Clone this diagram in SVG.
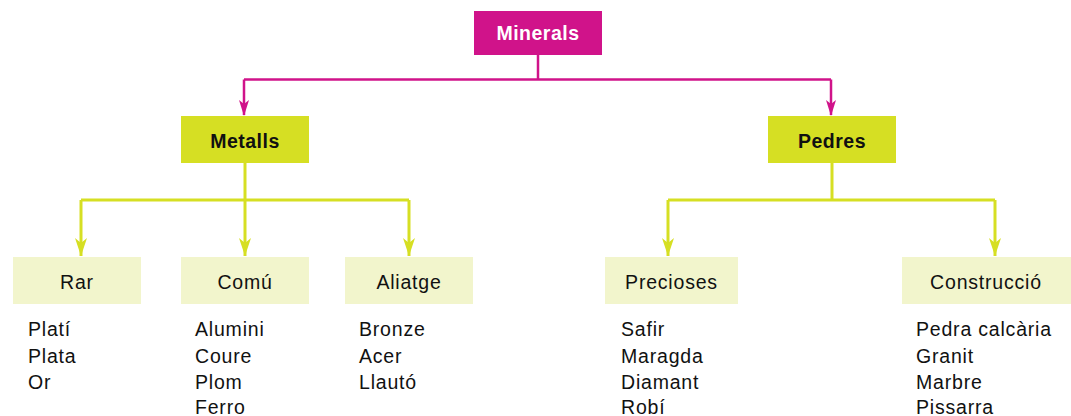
<svg xmlns="http://www.w3.org/2000/svg" width="1071" height="416" viewBox="0 0 1071 416">
<style>
.t{font-family:"Liberation Sans",Arial,sans-serif;font-size:19.5px;letter-spacing:0.8px;fill:#111}
.c{text-anchor:middle}
.b{font-weight:bold;letter-spacing:0.5px}
.mag{fill:none;stroke:#D0138A;stroke-width:2.5}
.yel{fill:none;stroke:#D6DF23;stroke-width:3}
.sub{fill:#F2F5CC}
.mid{fill:#D6DF23}
</style>
<g id="connectors">
<path class="mag" d="M538,55 V79.5"/>
<path class="mag" d="M244,79.5 H831"/>
<path class="mag" d="M244,79.5 V115"/>
<path class="mag" d="M831,79.5 V115"/>
<path class="yel" d="M245,163 V200"/>
<path class="yel" d="M81,200 H409"/>
<path class="yel" d="M81,200 V256"/>
<path class="yel" d="M245,200 V256"/>
<path class="yel" d="M409,200 V256"/>
<path class="yel" d="M832,163 V200"/>
<path class="yel" d="M668,200 H995"/>
<path class="yel" d="M668,200 V256"/>
<path class="yel" d="M995,200 V256"/>
<g fill="#D0138A">
<path d="M244,116 L239,100 L244,104 L249,100 Z"/>
<path d="M831,116 L826,100 L831,104 L836,100 Z"/>
</g>
<g fill="#D6DF23">
<path d="M81,256 L75,238 L81,243 L87,238 Z"/>
<path d="M245,256 L239,238 L245,243 L251,238 Z"/>
<path d="M409,256 L403,238 L409,243 L415,238 Z"/>
<path d="M668,256 L662,238 L668,243 L674,238 Z"/>
<path d="M995,256 L989,238 L995,243 L1001,238 Z"/>
</g>
</g>
<g id="minerals">
<rect x="474" y="11" width="128" height="44" fill="#D0138A"/>
<text class="t c b" x="538" y="39.5" style="fill:#fff">Minerals</text>
</g>
<g id="metalls">
<rect class="mid" x="181" y="116" width="128" height="47"/>
<text class="t c b" x="245" y="147.5">Metalls</text>
</g>
<g id="pedres">
<rect class="mid" x="768" y="116" width="128" height="47"/>
<text class="t c b" x="832" y="147.5">Pedres</text>
</g>
<g id="rar">
<rect class="sub" x="13" y="257" width="128" height="47"/>
<text class="t c" x="77" y="289">Rar</text>
<text class="t" x="28" y="336">Platí</text>
<text class="t" x="28" y="362.5">Plata</text>
<text class="t" x="28" y="389">Or</text>
</g>
<g id="comu">
<rect class="sub" x="181" y="257" width="128" height="47"/>
<text class="t c" x="245" y="289">Comú</text>
<text class="t" x="195" y="336">Alumini</text>
<text class="t" x="195" y="362.5">Coure</text>
<text class="t" x="195" y="389">Plom</text>
<text class="t" x="195" y="414">Ferro</text>
</g>
<g id="aliatge">
<rect class="sub" x="345" y="257" width="128" height="47"/>
<text class="t c" x="409" y="289">Aliatge</text>
<text class="t" x="359" y="336">Bronze</text>
<text class="t" x="359" y="362.5">Acer</text>
<text class="t" x="359" y="389">Llautó</text>
</g>
<g id="precioses">
<rect class="sub" x="605" y="257" width="133" height="47"/>
<text class="t c" x="671.5" y="289">Precioses</text>
<text class="t" x="621" y="336">Safir</text>
<text class="t" x="621" y="362.5">Maragda</text>
<text class="t" x="621" y="389">Diamant</text>
<text class="t" x="621" y="414">Robí</text>
</g>
<g id="construccio">
<rect class="sub" x="902" y="257" width="169" height="47"/>
<text class="t c" x="986" y="289">Construcció</text>
<text class="t" x="916" y="336">Pedra calcària</text>
<text class="t" x="916" y="362.5">Granit</text>
<text class="t" x="916" y="389">Marbre</text>
<text class="t" x="916" y="414">Pissarra</text>
</g>
</svg>
